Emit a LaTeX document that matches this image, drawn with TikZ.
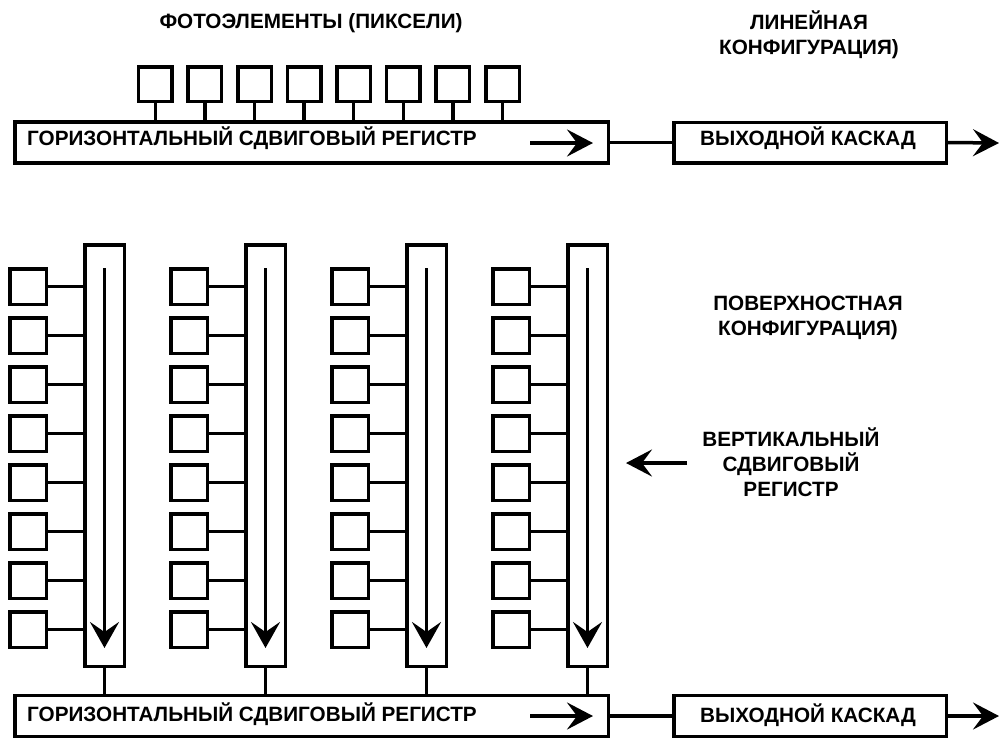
\documentclass[tikz,border=0pt]{standalone}
\usepackage{fontspec}
\setmainfont{Liberation Sans}
\usetikzlibrary{arrows.meta}
\begin{document}
\begin{tikzpicture}[x=1pt,y=-1pt,
  tpix/.style={draw, line width=3.5pt, minimum width=33.5pt, minimum height=34.5pt, inner sep=0pt},
  pix/.style={draw, line width=3.5pt, minimum width=36.5pt, minimum height=35.5pt, inner sep=0pt},
  box/.style={draw, line width=3.5pt, inner sep=0pt},
  lbl/.style={font=\bfseries\fontsize{20.7}{25}\selectfont, align=center, inner sep=0pt},
  wire/.style={line width=3.5pt},
  arr/.style={line width=3.5pt, -{Stealth[length=26pt,width=27pt,inset=10pt]}},
  varr/.style={line width=3.5pt, -{Stealth[length=26pt,width=29pt,inset=10pt]}},
]
\useasboundingbox (0,0) rectangle (1001,740);
% ---------- linear configuration ----------
\node[lbl] (t1) at (311,23) {ФОТОЭЛЕМЕНТЫ (ПИКСЕЛИ)};
\node[lbl] (t2) at (809,35) {ЛИНЕЙНАЯ\\КОНФИГУРАЦИЯ)};
\node[box, minimum width=593.5pt, minimum height=41pt] (hr1) at (311.5,142.5) {};
\foreach \i in {0,...,7} {
  \node[tpix] (tp\i) at (155.3+49.6*\i, 84) {};
  \draw[wire] (tp\i.south) -- (tp\i.south |- hr1.north);
}
\node[lbl, anchor=west] (hr1t) at (27,138) {ГОРИЗОНТАЛЬНЫЙ СДВИГОВЫЙ РЕГИСТР};
\coordinate (a1s) at (530,143);
\coordinate (a1e) at (593,143);
\draw[arr] (a1s) -- (a1e);
\node[box, minimum width=272.5pt, minimum height=40.5pt] (out1) at (810,142.5) {};
\node[lbl] (out1t) at (808,138) {ВЫХОДНОЙ КАСКАД};
\draw[wire] (hr1.east) -- (out1.west);
\coordinate (o1) at (999,143);
\draw[arr] (out1.east) -- (o1);
% ---------- area configuration ----------
\foreach \c in {0,...,3} {
  \pgfmathsetmacro\cx{104.5+161*\c}
  \node[box, minimum width=39.5pt, minimum height=421.5pt] (vr\c) at (\cx,455.5) {};
  \foreach \r in {0,...,7} {
    \node[pix] (p\c\r) at (\cx-76.5, 286.5+49*\r) {};
    \draw[wire] (p\c\r.east) -- (p\c\r.east -| vr\c.west);
  }
  \coordinate (vs\c) at (\cx,268);
  \coordinate (ve\c) at (\cx,648);
  \draw[varr] (vs\c) -- (ve\c);
}
\node[box, minimum width=593.5pt, minimum height=41pt] (hr2) at (311.5,716) {};
\foreach \c in {0,...,3} {
  \draw[wire] (vr\c.south) -- (vr\c.south |- hr2.north);
}
\node[lbl, anchor=west] (hr2t) at (27,714.5) {ГОРИЗОНТАЛЬНЫЙ СДВИГОВЫЙ РЕГИСТР};
\coordinate (a2s) at (530,716);
\coordinate (a2e) at (593,716);
\draw[arr] (a2s) -- (a2e);
\node[box, minimum width=272.5pt, minimum height=41pt] (out2) at (810,716) {};
\node[lbl] (out2t) at (808,715) {ВЫХОДНОЙ КАСКАД};
\draw[wire] (hr2.east) -- (out2.west);
\coordinate (o2) at (999,716);
\draw[arr] (out2.east) -- (o2);
% ---------- right labels ----------
\node[lbl] (t3) at (808,318) {ПОВЕРХНОСТНАЯ\\КОНФИГУРАЦИЯ)};
\node[lbl] (t4) at (791,462) {ВЕРТИКАЛЬНЫЙ\\СДВИГОВЫЙ\\РЕГИСТР};
\coordinate (vla) at (687,463);
\coordinate (vlb) at (626,463);
\draw[arr] (vla) -- (vlb);
\end{tikzpicture}
\end{document}
